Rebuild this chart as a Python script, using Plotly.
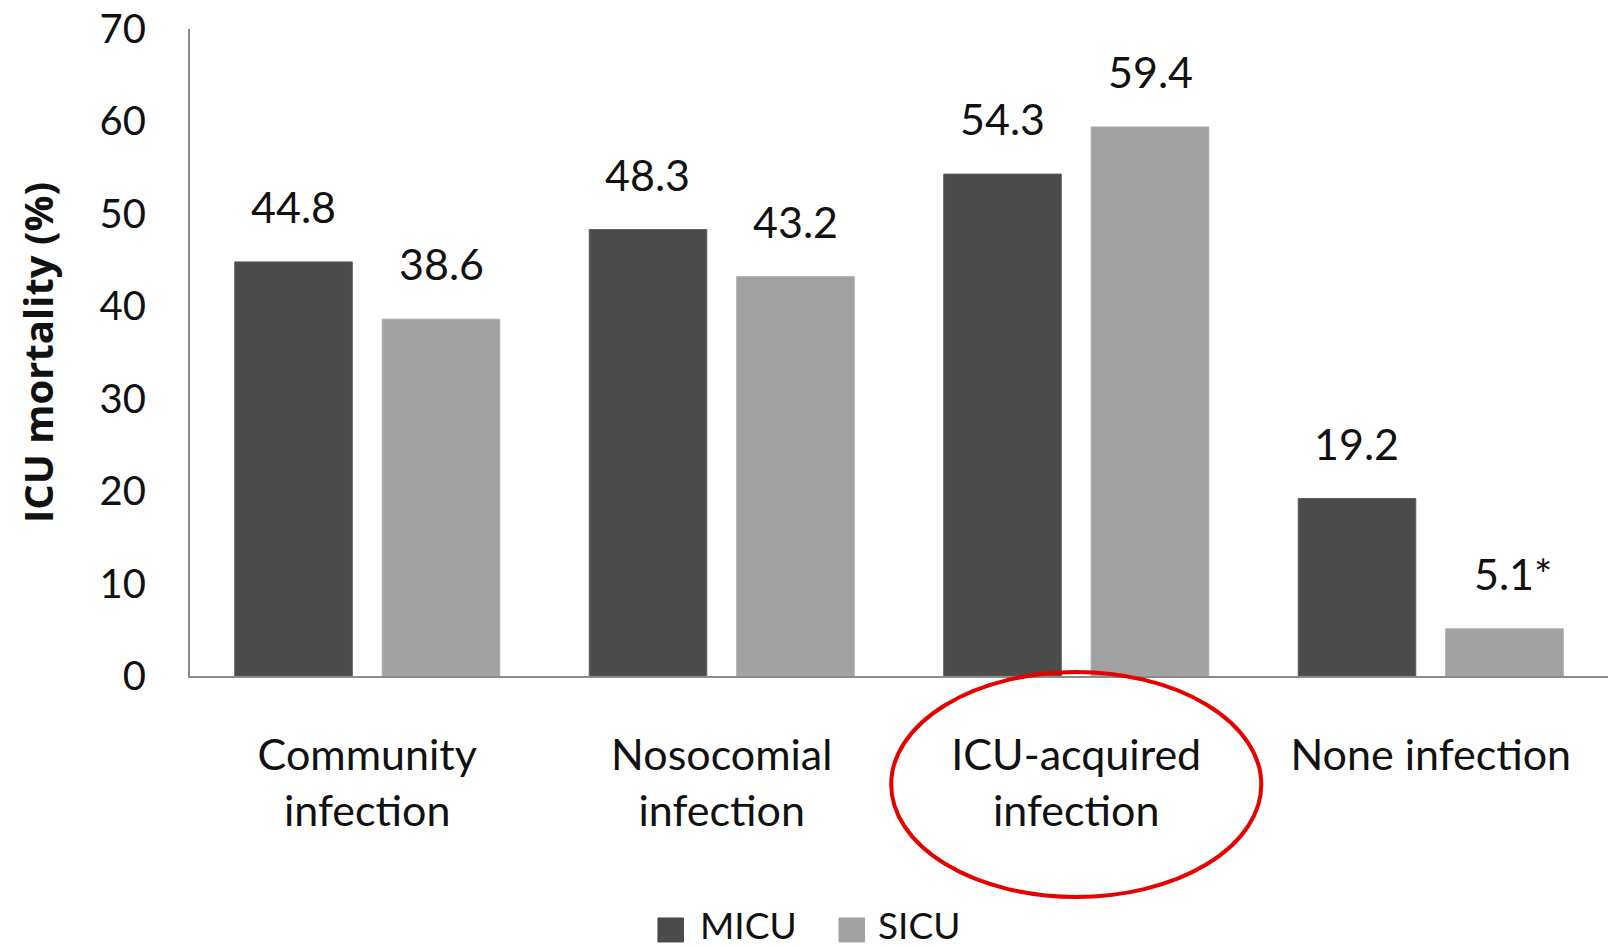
import plotly.graph_objects as go

categories = ["Community<br>infection", "Nosocomial<br>infection", "ICU-acquired<br>infection", "None infection"]
micu = [44.8, 48.3, 54.3, 19.2]
sicu = [38.6, 43.2, 59.4, 5.1]
micu_marks = ["", "", "", ""]
sicu_marks = ["", "", "", "*"]
y_ticks = [0, 10, 20, 30, 40, 50, 60, 70]
series_names = ["MICU", "SICU"]

MICU_COLOR = "#4b4b4b"
SICU_COLOR = "#a1a1a1"
FONT = "Lato, 'Open Sans', sans-serif"

fig = go.Figure()
fig.add_trace(go.Bar(x=categories, y=micu, name="MICU",
                     marker=dict(color=MICU_COLOR, line=dict(color="#5a5a5a", width=1)), showlegend=False))
fig.add_trace(go.Bar(x=categories, y=sicu, name="SICU",
                     marker=dict(color=SICU_COLOR, line=dict(color="#aaaaaa", width=1)), showlegend=False))

# value labels above bars
for vals, marks, shift in [(micu, micu_marks, -74), (sicu, sicu_marks, 74)]:
    for c, v, m in zip(categories, vals, marks):
        fig.add_annotation(x=c, y=v, text=f"{v:.1f}{m}", showarrow=False,
                           xshift=shift + (8 if m else 0), yshift=28, yanchor="bottom",
                           font=dict(family=FONT, size=43, color="#111111"))

# red ellipse highlighting ICU-acquired infection
fig.add_shape(type="circle", xref="x", yref="paper",
              x0=1.478, x1=2.522, y0=-0.3416, y1=0.0062,
              line=dict(color="#e60000", width=4))

# legend (drawn in the bottom margin)
legend_items = [(series_names[0], MICU_COLOR, 0.3300, 0.3580), (series_names[1], SICU_COLOR, 0.4577, 0.4835)]
for name, col, sx, tx in legend_items:
    fig.add_shape(type="rect", xref="paper", yref="paper", x0=sx, x1=sx + 0.0180,
                  y0=-0.4111, y1=-0.3740, fillcolor=col, line=dict(color=col, width=1))
    fig.add_annotation(xref="paper", yref="paper", x=tx, y=-0.4219, text=name, showarrow=False,
                       xanchor="left", yanchor="bottom",
                       font=dict(family=FONT, size=37, color="#111111"))

fig.update_layout(
    width=1616, height=949,
    margin=dict(l=190, r=8, t=29, b=273),
    plot_bgcolor="white", paper_bgcolor="white",
    barmode="group", bargap=0.168, bargroupgap=0.203,
    font=dict(family=FONT, color="#111111"),
    showlegend=False,
)
fig.update_xaxes(showline=True, linecolor="#8c8c8c", linewidth=2, ticks="", automargin=False,
                 tickfont=dict(family=FONT, size=43), ticklabelstandoff=40)
fig.update_yaxes(range=[0, 70], tickvals=y_ticks, showline=True, linecolor="#8c8c8c", linewidth=2,
                 showgrid=False, zeroline=False, ticks="", automargin=False,
                 ticklabeloverflow="allow",
                 tickfont=dict(family=FONT, size=40), ticklabelstandoff=34,
                 title=dict(text="<b>ICU mortality (%)</b>",
                            font=dict(family="'Open Sans', sans-serif", size=40), standoff=34))

# remove the default 8px page margin so the figure fills the window exactly
fig.write_html("out.html", config={"displayModeBar": False},
               post_script="document.body.style.margin='0px';")
